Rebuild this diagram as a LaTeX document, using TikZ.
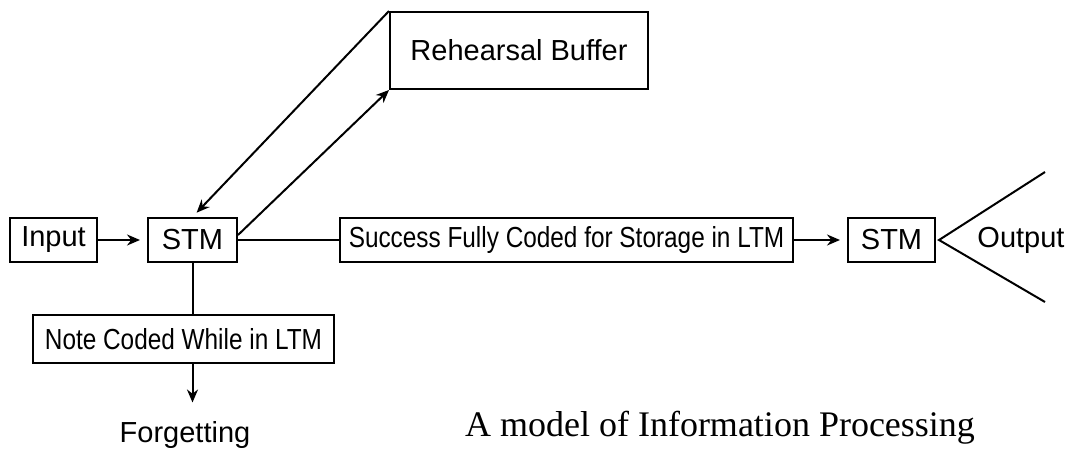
\documentclass[tikz,border=0pt]{standalone}
\usepackage{fontspec}
\setmainfont{Liberation Sans}
\newfontfamily\narrowsf[FakeStretch=0.84]{Liberation Sans}
\newfontfamily\serifcap{Liberation Serif}
\usetikzlibrary{arrows.meta,positioning}

\begin{document}
\begin{tikzpicture}[x=1pt,y=-1pt,>={Stealth[length=13pt,width=11pt]},line width=2pt,font=\fontsize{29}{34}\selectfont]
 \tikzstyle{every node}=[inner sep=2pt]
 \tikzstyle{box}=[draw,rectangle,minimum height=44pt]
 \tikzstyle{narrow}=[font=\narrowsf\fontsize{29}{34}\selectfont]

 \useasboundingbox (0,0) rectangle (1075,450);

   \node[box,minimum width=87pt] (inp) at (53.5,240) {Input};
   \node[box,minimum width=89pt] (stm) at (192.5,240) {STM};
   \node[box,minimum width=258pt,minimum height=77pt] (buffer) at (519,50.5) {Rehearsal Buffer};
   \node[box,narrow,minimum width=453pt] (coded) at (566.5,240) {Success Fully Coded for Storage in LTM};
   \node[box,minimum width=87pt] (stm2) at (891.5,240) {STM};
   \node (output) at (1021,240) {Output};
   \node[box,narrow,minimum width=301pt,minimum height=48pt] (note) at (183.5,339) {Note Coded While in LTM};
   \node (forget) at (185,435) {Forgetting};
   \node[font=\serifcap\fontsize{36}{40}\selectfont] (caption) at (720,428) {A model of Information Processing};
   \coordinate (outtop) at (1045,172);
   \coordinate (outbot) at (1045,302);

   \path[->]
   (inp) edge[shorten >=7pt] (stm)
   (buffer.north west) edge[shorten >=6pt] (stm.north)
   ([yshift=5pt]stm.east) edge (buffer.south west)
   (coded) edge[shorten >=7pt] (stm2)
   (stm |- note.south) edge[shorten >=16pt] (stm |- forget.north);

   \draw (stm) -- (coded);
   \draw (stm.south) -- (stm.south |- note.north);
   \draw (outtop) -- ([xshift=3pt]stm2.east) -- (outbot);

\end{tikzpicture}
\end{document}
